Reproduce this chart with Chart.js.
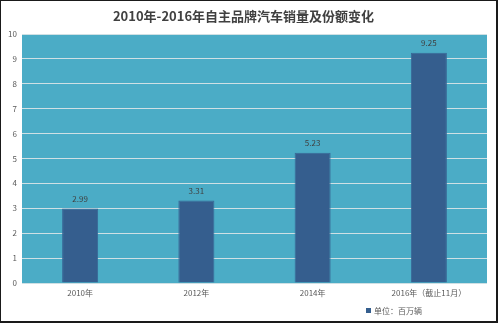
<!DOCTYPE html>
<html>
<head>
<meta charset="utf-8">
<script src="https://cdn.jsdelivr.net/npm/chart.js@4/dist/chart.umd.min.js"></script>
<style>
  html, body { margin: 0; padding: 0; background: #fff; }
  #wrap { width: 500px; height: 324px; position: relative; }
</style>
</head>
<body>
<div id="wrap"><canvas id="c" width="500" height="324"></canvas></div>
<script>
// ─── Data ────────────────────────────────────────────────────────────
const TITLE = '2010年-2016年自主品牌汽车销量及份额变化';
const categories = ['2010年', '2012年', '2014年', '2016年（截止11月）'];
const sales = [2.99, 3.31, 5.23, 9.25];
const seriesLabel = '单位：百万辆';
const yTicks = [0, 1, 2, 3, 4, 5, 6, 7, 8, 9, 10];

const FONT = '"Noto Sans CJK SC", "Noto Sans", sans-serif';
const BAR = '#355E8E';
const PLOT_BG = '#4BACC6';

// ─── Plugins ─────────────────────────────────────────────────────────

// outer frame + teal plot background
const frame = {
  id: 'frame',
  beforeDraw(chart) {
    const { ctx, chartArea: a } = chart;
    ctx.save();
    ctx.fillStyle = PLOT_BG;
    ctx.fillRect(a.left, a.top, a.right - a.left, a.bottom - a.top);
    ctx.fillStyle = '#1a1a1a';
    ctx.fillRect(0, 0, 498, 1);     // top
    ctx.fillRect(0, 0, 1, 323);     // left
    ctx.fillRect(496, 0, 2, 323);   // right
    ctx.fillRect(0, 321, 498, 2);   // bottom
    ctx.restore();
  }
};

// value labels above the bars + legend entry
const labels = {
  id: 'labels',
  afterDatasetsDraw(chart) {
    const { ctx } = chart;
    const ds = chart.data.datasets[0];
    const meta = chart.getDatasetMeta(0);
    ctx.save();
    ctx.font = '8px ' + FONT;
    ctx.fillStyle = '#404040';
    ctx.textAlign = 'center';
    ctx.textBaseline = 'middle';
    meta.data.forEach((bar, i) => {
      ctx.fillText(ds.data[i].toFixed(2), bar.x, bar.y - 9.5);
    });

    // legend
    const lx = 366, ly = 311;
    ctx.fillStyle = ds.backgroundColor;
    ctx.fillRect(lx, ly - 3, 5, 5);
    ctx.fillStyle = '#595959';
    ctx.textAlign = 'left';
    ctx.fillText(ds.label, lx + 8, ly);
    ctx.restore();
  }
};

// ─── Chart ───────────────────────────────────────────────────────────

new Chart(document.getElementById('c').getContext('2d'), {
  type: 'bar',
  data: {
    labels: categories,
    datasets: [{
      label: seriesLabel,
      data: sales,
      backgroundColor: BAR,
      borderColor: '#3a6796',
      borderWidth: 1,
      barPercentage: 0.31,
      categoryPercentage: 1,
    }]
  },
  options: {
    responsive: false,
    animation: false,
    layout: { padding: { left: 0, right: 13, top: 0, bottom: 22 } },
    plugins: {
      legend: { display: false },
      tooltip: { enabled: false },
      title: {
        display: true,
        text: TITLE,
        color: '#404040',
        font: { family: FONT, size: 13, weight: 'bold', lineHeight: 1.2 },
        padding: { top: 8, bottom: 10.4 },
      },
    },
    scales: {
      x: {
        grid: { display: false, drawTicks: false },
        border: { display: false },
        ticks: { color: '#595959', font: { family: FONT, size: 8 }, padding: 5, maxRotation: 0 },
        afterFit(scale) { scale.height = 19; },
      },
      y: {
        min: 0,
        max: 10,
        afterBuildTicks(scale) { scale.ticks = yTicks.map(v => ({ value: v })); },
        grid: { color: '#cfe0e4', lineWidth: 1, drawTicks: false },
        border: { display: false },
        ticks: { color: '#595959', font: { family: FONT, size: 8 }, padding: 5 },
        afterFit(scale) { scale.width = 22; },
      },
    },
  },
  plugins: [frame, labels],
});
</script>
</body>
</html>
